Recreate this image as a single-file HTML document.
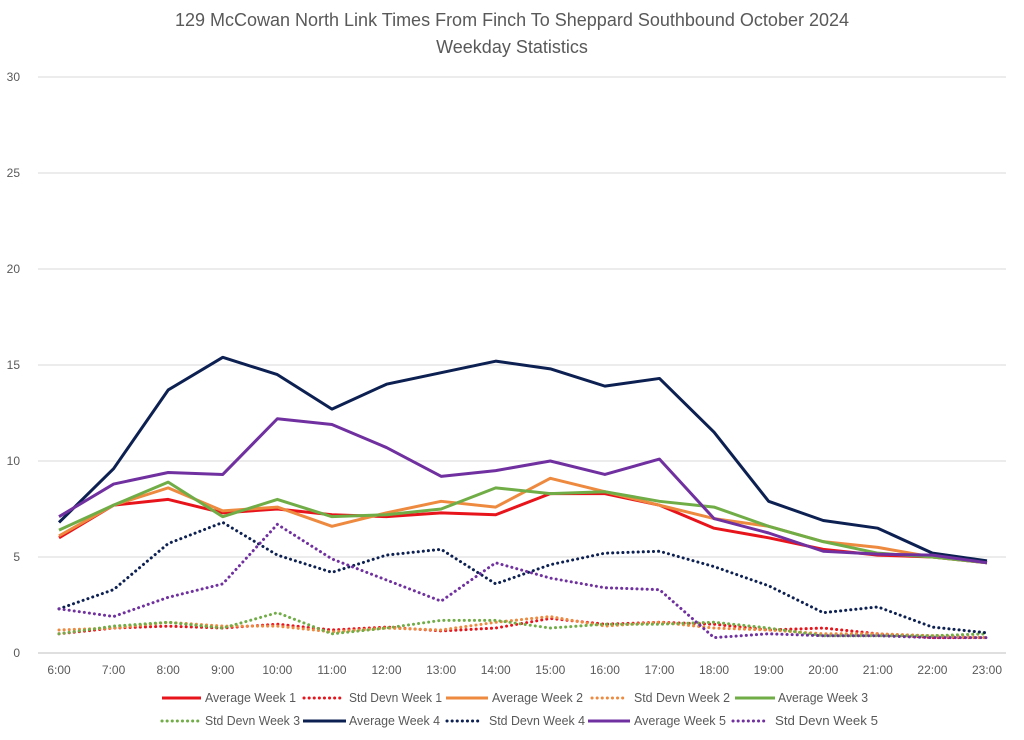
<!DOCTYPE html>
<html><head><meta charset="utf-8"><style>
body{margin:0;background:#fff;}
svg{display:block;font-family:"Liberation Sans",sans-serif;}
</style></head><body>
<svg id="chart" width="1024" height="740" xmlns="http://www.w3.org/2000/svg">
<text x="512" y="26" text-anchor="middle" font-size="18" fill="#595959">129 McCowan North Link Times From Finch To Sheppard Southbound October 2024</text>
<text x="512" y="53" text-anchor="middle" font-size="18" fill="#595959">Weekday Statistics</text>
<g id="grid"></g><g id="series"></g><g id="legend"></g>
</svg>
<script>
const categories=["6:00","7:00","8:00","9:00","10:00","11:00","12:00","13:00","14:00","15:00","16:00","17:00","18:00","19:00","20:00","21:00","22:00","23:00"];
const yTicks=[0,5,10,15,20,25,30];
const avgWeek1=[6.0,7.7,8.0,7.3,7.5,7.2,7.1,7.3,7.2,8.3,8.3,7.7,6.5,6.0,5.4,5.1,5.0,4.7];
const stdWeek1=[1.0,1.3,1.4,1.3,1.5,1.2,1.35,1.15,1.3,1.8,1.5,1.6,1.5,1.2,1.3,1.0,0.8,0.8];
const avgWeek2=[6.1,7.7,8.6,7.4,7.6,6.6,7.3,7.9,7.6,9.1,8.4,7.7,7.0,6.6,5.8,5.5,5.0,4.7];
const stdWeek2=[1.2,1.3,1.6,1.4,1.4,1.1,1.3,1.2,1.6,1.9,1.4,1.6,1.3,1.2,1.0,1.0,0.9,0.8];
const avgWeek3=[6.4,7.7,8.9,7.1,8.0,7.1,7.2,7.5,8.6,8.3,8.4,7.9,7.6,6.6,5.8,5.2,5.0,4.7];
const stdWeek3=[1.0,1.4,1.6,1.3,2.1,1.0,1.3,1.7,1.7,1.3,1.5,1.5,1.6,1.3,0.9,0.9,0.9,1.0];
const avgWeek4=[6.8,9.6,13.7,15.4,14.5,12.7,14.0,14.6,15.2,14.8,13.9,14.3,11.5,7.9,6.9,6.5,5.2,4.8];
const stdWeek4=[2.3,3.3,5.7,6.8,5.1,4.2,5.1,5.4,3.6,4.6,5.2,5.3,4.5,3.5,2.1,2.4,1.35,1.05];
const avgWeek5=[7.1,8.8,9.4,9.3,12.2,11.9,10.7,9.2,9.5,10.0,9.3,10.1,7.0,6.25,5.3,5.15,5.1,4.7];
const stdWeek5=[2.3,1.9,2.9,3.6,6.7,4.9,3.8,2.7,4.7,3.9,3.4,3.3,0.8,1.0,0.9,0.9,0.8,0.8];

const NS="http://www.w3.org/2000/svg";
const x0=59,x1=987,yBase=653,yTop=77,yMax=30;
const xs=i=>x0+i*(x1-x0)/(categories.length-1);
const ys=v=>yBase-v*(yBase-yTop)/yMax;
function mk(t,a,p){const e=document.createElementNS(NS,t);for(const k in a)e.setAttribute(k,a[k]);p.appendChild(e);return e;}
const grid=document.getElementById('grid');
yTicks.forEach(v=>{
  const l=mk('line',{x1:38,x2:1006,y1:ys(v),y2:ys(v),stroke:v===0?'#bfbfbf':'#d9d9d9','stroke-width':1},grid);
  
  
  const t=mk('text',{x:20,y:ys(v)+4,'text-anchor':'end','font-size':12,fill:'#595959'},grid);
  t.textContent=v;
  
  
});
categories.forEach((c,i)=>{
  const t=mk('text',{x:xs(i),y:674,'text-anchor':'middle','font-size':12,fill:'#595959'},grid);
  t.textContent=c;
  
  
});
const seriesDefs=[
 ["Average Week 1",avgWeek1,"#e8141c",false],["Std Devn Week 1",stdWeek1,"#e8141c",true],
 ["Average Week 2",avgWeek2,"#ed8a3f",false],["Std Devn Week 2",stdWeek2,"#ed8a3f",true],
 ["Average Week 3",avgWeek3,"#70ad47",false],["Std Devn Week 3",stdWeek3,"#70ad47",true],
 ["Average Week 4",avgWeek4,"#0d2052",false],["Std Devn Week 4",stdWeek4,"#0d2052",true],
 ["Average Week 5",avgWeek5,"#7030a0",false],["Std Devn Week 5",stdWeek5,"#7030a0",true]];
const sg=document.getElementById('series');
seriesDefs.forEach(([name,d,col,dot])=>{
  const p=mk('polyline',{points:d.map((v,i)=>xs(i)+','+ys(v)).join(' '),fill:'none',stroke:col,'stroke-width':3,'stroke-linejoin':'round','stroke-linecap':dot?'round':'butt'},sg);
  if(dot)p.setAttribute('stroke-dasharray','0.1 5');
  
  
});
const lg=document.getElementById('legend');
// [lineStart,lineEnd,textStart,textWidth,baseline]
const legPos=[[162,201,205,91,702],[304,342,349,93,702],[446,488,492,91,702],[592,627,634,96,702],[735,775,778,90,702],
              [162,199,205,95,725],[303,346,349,91,725],[447,482,489,96,725],[588,630,634,92,725],[733,768,775,103,725]];
seriesDefs.forEach(([name,d,col,dot],i)=>{
  const [a,b,tx,tw,ly]=legPos[i];
  const g=mk('g',{},lg);
  
  
  const l=mk('line',{x1:a,x2:b,y1:ly-4,y2:ly-4,stroke:col,'stroke-width':3,'stroke-linecap':dot?'round':'butt'},g);
  if(dot)l.setAttribute('stroke-dasharray','0.1 5');
  const t=mk('text',{x:tx,y:ly,'font-size':13,fill:'#595959',textLength:tw,lengthAdjust:'spacingAndGlyphs'},g);
  t.textContent=name;
});
</script>
</body></html>
